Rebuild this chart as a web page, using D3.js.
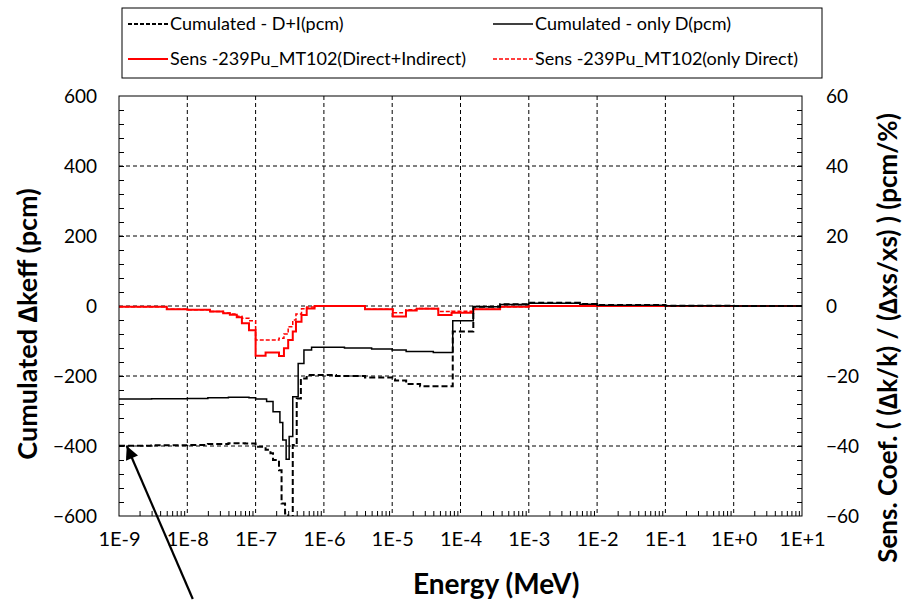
<!DOCTYPE html>
<html lang="en">
    <head>
        <meta charset="utf-8">
        <title>Sensitivity 239Pu MT102</title>
        <script type="text/javascript" src="https://cdn.jsdelivr.net/npm/d3@7"></script>
        <style>
          body { margin: 0; background: white; }
          text { font-family: Lato, "Noto Sans", sans-serif; fill: #000; }
        </style>
    </head>
    <body>
        <script type="text/javascript">

          // energy group edges (MeV) and cumulated values (pcm), left axis
          var energyD = [1e-9, 3e-9, 1e-8, 2e-8, 4e-8, 8e-8, 1e-7, 1.45e-7, 1.8e-7,
                         2.27e-7, 2.5e-7, 2.8e-7, 3.1e-7, 3.5e-7, 4.2e-7, 5.1e-7, 6.6e-7,
                         2e-6, 5e-6, 1e-5, 1.6e-5, 4e-5, 7.7e-5, 1.54e-4, 3.8e-4, 1e-3,
                         5.6e-3, 1e-2, 1e-1, 1];
          var onlyD = [-266, -265, -264, -262, -261, -262, -266, -273, -302,
                       -333, -383, -438, -373, -259, -164, -126, -118,
                       -120, -123, -126, -130, -133, -42, -2, 4, 8,
                       5, 2, 1, 0];

          var energyDI = [1e-9, 3e-9, 1e-8, 2e-8, 4e-8, 7e-8, 1e-7, 1.4e-7, 1.65e-7,
                          1.8e-7, 2.2e-7, 2.4e-7, 2.7e-7, 3.0e-7, 3.5e-7, 4.0e-7, 4.6e-7,
                          5.6e-7, 1.5e-6, 4e-6, 1e-5, 1.1e-5, 1.6e-5, 2.56e-5, 7.7e-5,
                          1.54e-4, 3.8e-4, 1e-3, 5.6e-3, 1e-2, 1e-1, 1];
          var cumDI = [-399, -398, -397, -394, -392, -393, -402, -411, -421,
                       -440, -469, -564, -593, -650, -397, -264, -207,
                       -197, -200, -204, -209, -213, -223, -229, -73,
                       -2, 5, 9, 6, 3, 1, 0];

          // sensitivity coefficients (pcm/%), right axis
          var energyS = [1e-9, 5e-9, 1e-8, 2.15e-8, 3.36e-8, 4.2e-8, 5.3e-8, 6.3e-8, 8e-8,
                         1e-7, 1.4e-7, 2.2e-7, 2.6e-7, 3.0e-7, 3.5e-7, 3.9e-7, 4.7e-7,
                         5.6e-7, 7.3e-7, 4e-6, 1.02e-5, 1.59e-5, 2.28e-5, 4.73e-5, 7.4e-5,
                         1.54e-4, 3.8e-4, 1e-3];
          var sensDI = [-0.2, -0.9, -1.1, -1.6, -2.1, -2.5, -3.2, -4.9, -6.9,
                        -14.2, -13.3, -14.3, -12.1, -9.7, -7.3, -4.5, -2.6,
                        -0.7, 0, -0.95, -3.0, -1.3, -0.8, -2.6, -1.9,
                        -0.95, -0.2, 0];
          var sensD = [-0.2, -0.9, -1.1, -1.6, -2.0, -2.3, -2.9, -3.5, -4.2,
                       -9.7, -9.7, -9.2, -8.0, -5.9, -4.0, -2.3, -0.8,
                       -0.3, 0, -0.9, -1.9, -1.1, -0.7, -1.6, -1.5,
                       -0.9, -0.2, 0];

          // tick labels
          var xTicks = [1e-9, 1e-8, 1e-7, 1e-6, 1e-5, 1e-4, 1e-3, 1e-2, 1e-1, 1, 10];
          var xTickLabels = ["1E-9", "1E-8", "1E-7", "1E-6", "1E-5", "1E-4",
                             "1E-3", "1E-2", "1E-1", "1E+0", "1E+1"];
          var yLeftTicks = [-600, -400, -200, 0, 200, 400, 600];
          var yRightTicks = [-60, -40, -20, 0, 20, 40, 60];

          var legendNames = ["Cumulated - D+I(pcm)", "Cumulated - only D(pcm)",
                             "Sens -239Pu_MT102(Direct+Indirect)", "Sens -239Pu_MT102(only Direct)"];

          // sizes (plot area edges)
          var width = 902;
          var height = 600;
          var plotLeft = 119;
          var plotRight = 802;
          var plotTop = 96;
          var plotBottom = 516;

          var svg = d3.select("body")
            .append("svg")
            .attr("width", width)
            .attr("height", height);

          // scales
          var x = d3.scaleLog()
                    .domain([1e-9, 10])
                    .range([plotLeft, plotRight]);
          var yL = d3.scaleLinear()
                     .domain([-600, 600])
                     .range([plotBottom, plotTop]);
          var yR = d3.scaleLinear()
                     .domain([-60, 60])
                     .range([plotBottom, plotTop]);

          // grid lines
          svg.append("g")
             .selectAll("line")
             .data(xTicks.slice(1, -1))
             .enter()
             .append("line")
             .attr("x1", d => x(d))
             .attr("x2", d => x(d))
             .attr("y1", plotTop)
             .attr("y2", plotBottom)
             .attr("stroke", "#000")
             .attr("stroke-width", 1)
             .attr("stroke-dasharray", "4,3");

          svg.append("g")
             .selectAll("line")
             .data(yLeftTicks.slice(1, -1))
             .enter()
             .append("line")
             .attr("x1", plotLeft)
             .attr("x2", plotRight)
             .attr("y1", d => yL(d))
             .attr("y2", d => yL(d))
             .attr("stroke", "#000")
             .attr("stroke-width", 1)
             .attr("stroke-dasharray", "4,3");

          // minor ticks, all pointing inside
          var minorX = [];
          for (var dec = -9; dec < 1; dec++) {
            for (var m = 2; m < 10; m++) {
              minorX.push(m * Math.pow(10, dec));
            }
          }
          svg.append("g")
             .attr("transform", "translate(0," + plotBottom + ")")
             .call(d3.axisTop(x).tickValues(minorX).tickSize(5).tickFormat(""))
             .call(g => g.select(".domain").remove());

          svg.append("g")
             .attr("transform", "translate(" + plotLeft + ",0)")
             .call(d3.axisRight(yL).tickValues(d3.range(-560, 600, 40)).tickSize(5).tickFormat(""))
             .call(g => g.select(".domain").remove());

          svg.append("g")
             .attr("transform", "translate(" + plotRight + ",0)")
             .call(d3.axisLeft(yR).tickValues(d3.range(-56, 60, 4)).tickSize(5).tickFormat(""))
             .call(g => g.select(".domain").remove());

          svg.selectAll(".tick line").attr("stroke", "#000").attr("stroke-width", 1);

          // tick labels
          svg.append("g")
             .attr("transform", "translate(0," + plotBottom + ")")
             .call(d3.axisBottom(x).tickValues(xTicks).tickSize(0).tickPadding(16)
                     .tickFormat((d, i) => xTickLabels[i]))
             .call(g => g.select(".domain").remove())
             .selectAll("text")
             .style("font-size", "20px")
             .style("font-family", "Lato");

          svg.append("g")
             .attr("transform", "translate(" + plotLeft + ",0)")
             .call(d3.axisLeft(yL).tickValues(yLeftTicks).tickSize(0).tickPadding(22))
             .call(g => g.select(".domain").remove())
             .selectAll("text")
             .style("font-size", "19px")
             .style("font-family", "Lato");

          svg.append("g")
             .attr("transform", "translate(" + plotRight + ",0)")
             .call(d3.axisRight(yR).tickValues(yRightTicks).tickSize(0).tickPadding(24))
             .call(g => g.select(".domain").remove())
             .selectAll("text")
             .style("font-size", "19px")
             .style("font-family", "Lato");

          // clip for the curves
          svg.append("clipPath")
             .attr("id", "plotclip")
             .append("rect")
             .attr("x", plotLeft)
             .attr("y", plotTop)
             .attr("width", plotRight - plotLeft)
             .attr("height", plotBottom - plotTop);

          // step lines: value holds until next edge, last one runs to 1E+1
          function stepPoints(edges, values) {
            var pts = edges.map((e, i) => [e, values[i]]);
            pts.push([10, values[values.length - 1]]);
            return pts;
          }

          var lineL = d3.line()
                        .x(d => x(d[0]))
                        .y(d => yL(d[1]))
                        .curve(d3.curveStepAfter);
          var lineR = d3.line()
                        .x(d => x(d[0]))
                        .y(d => yR(d[1]))
                        .curve(d3.curveStepAfter);

          var curves = svg.append("g").attr("clip-path", "url(#plotclip)");

          curves.append("path")
             .attr("d", lineR(stepPoints(energyS, sensDI)))
             .attr("fill", "none")
             .attr("stroke", "#ff0000")
             .attr("stroke-width", 2);

          curves.append("path")
             .attr("d", lineR(stepPoints(energyS, sensD)))
             .attr("fill", "none")
             .attr("stroke", "#ff0000")
             .attr("stroke-width", 1.5)
             .attr("stroke-dasharray", "4,2");

          curves.append("path")
             .attr("d", lineL(stepPoints(energyD, onlyD)))
             .attr("fill", "none")
             .attr("stroke", "#000")
             .attr("stroke-width", 1.5);

          curves.append("path")
             .attr("d", lineL(stepPoints(energyDI, cumDI)))
             .attr("fill", "none")
             .attr("stroke", "#000")
             .attr("stroke-width", 2)
             .attr("stroke-dasharray", "6,3");

          // plot area border
          svg.append("rect")
             .attr("x", plotLeft)
             .attr("y", plotTop)
             .attr("width", plotRight - plotLeft)
             .attr("height", plotBottom - plotTop)
             .attr("fill", "none")
             .attr("stroke", "#000")
             .attr("stroke-width", 1);

          // axis titles
          svg.append("text")
             .attr("x", 413)
             .attr("y", 594)
             .style("text-anchor", "start")
             .style("font-size", "28px")
             .style("font-weight", "bold")
             .text("Energy (MeV)");

          svg.append("text")
             .attr("transform", "translate(37,324) rotate(-90)")
             .style("text-anchor", "middle")
             .style("font-size", "27px")
             .style("font-weight", "bold")
             .text("Cumulated \u2206keff (pcm)");

          svg.append("text")
             .attr("transform", "translate(897,338) rotate(-90)")
             .style("text-anchor", "middle")
             .style("font-size", "26px")
             .style("font-weight", "bold")
             .text("Sens. Coef. ( (\u2206k/k) / (\u2206xs/xs) )  (pcm/%)");

          // legend
          var legend = svg.append("g");
          legend.append("rect")
             .attr("x", 122)
             .attr("y", 8)
             .attr("width", 700)
             .attr("height", 70)
             .attr("fill", "white")
             .attr("stroke", "#000")
             .attr("stroke-width", 1);

          var legendStyle = [
            {color: "#000", w: 2, dash: "4,2"},
            {color: "#000", w: 1.5, dash: null},
            {color: "#ff0000", w: 2, dash: null},
            {color: "#ff0000", w: 1.5, dash: "4,2"}
          ];
          legendNames.forEach(function(name, i) {
            var lx = i % 2 === 0 ? 128 : 493;
            var ly = i < 2 ? 24 : 59;
            legend.append("line")
               .attr("x1", lx)
               .attr("x2", lx + 40)
               .attr("y1", ly)
               .attr("y2", ly)
               .attr("stroke", legendStyle[i].color)
               .attr("stroke-width", legendStyle[i].w)
               .attr("stroke-dasharray", legendStyle[i].dash);
            legend.append("text")
               .attr("x", lx + 42)
               .attr("y", ly + 6)
               .style("font-size", "18px")
               .text(name);
          });

          // arrow pointing at the -400 pcm level
          var arrowTip = [1.3e-9, -400];
          var tipX = x(arrowTip[0]);
          var tipY = yL(arrowTip[1]);
          svg.append("defs")
             .append("marker")
             .attr("id", "head")
             .attr("viewBox", "0 0 10 10")
             .attr("refX", 10)
             .attr("refY", 5)
             .attr("markerWidth", 7)
             .attr("markerHeight", 6)
             .attr("orient", "auto")
             .append("path")
             .attr("d", "M0,0L10,5L0,10Z")
             .attr("fill", "#000");

          svg.append("line")
             .attr("x1", tipX + 66)
             .attr("y1", tipY + 153)
             .attr("x2", tipX)
             .attr("y2", tipY)
             .attr("stroke", "#000")
             .attr("stroke-width", 2.2)
             .attr("marker-end", "url(#head)");

        </script>
    </body>
</html>
